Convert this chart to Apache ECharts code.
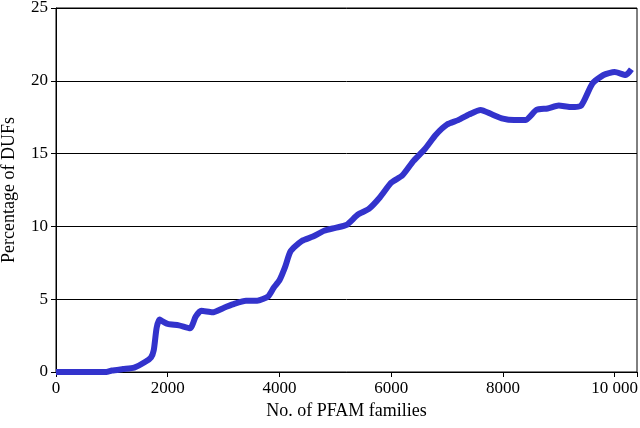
<!DOCTYPE html><html><head><meta charset="utf-8"><script src="https://cdn.jsdelivr.net/npm/echarts@6/dist/echarts.min.js"></script></head><body style="margin:0"><div id="c" style="width:640px;height:428px"></div><script>
const xs=[0,300,600,900,1000,1200,1400,1600,1700,1750,1800,1850,1900,2000,2200,2400,2500,2600,2800,3000,3200,3400,3600,3800,3900,4000,4100,4200,4400,4600,4800,5000,5200,5400,5600,5800,6000,6200,6400,6600,6800,7000,7200,7400,7600,7800,8000,8200,8400,8600,8800,9000,9200,9400,9600,9800,10000,10200,10300];
const ys=[0,0,0,0,0.1,0.2,0.3,0.7,1.0,1.5,3.0,3.6,3.5,3.3,3.2,3.0,3.8,4.2,4.1,4.4,4.7,4.9,4.9,5.2,5.8,6.3,7.2,8.3,9.0,9.3,9.7,9.9,10.1,10.8,11.2,12.0,13.0,13.5,14.5,15.3,16.3,17.0,17.3,17.7,18.0,17.7,17.4,17.3,17.3,18.0,18.1,18.3,18.2,18.3,19.8,20.4,20.6,20.4,20.8];
const xLabels={0:'0',2000:'2000',4000:'4000',6000:'6000',8000:'8000',10000:'10 000'};
const f='Liberation Serif';
echarts.init(document.getElementById('c')).setOption({animation:false,
grid:{left:56,right:3,top:8,bottom:56,outerBoundsMode:'none',show:true,borderColor:'#000',borderWidth:1},
xAxis:{type:'value',min:0,max:10400,interval:2000,name:'No. of PFAM families',nameLocation:'middle',nameGap:30,nameTextStyle:{fontFamily:f,fontSize:18,color:'#000'},
axisLine:{lineStyle:{color:'#000'}},axisTick:{show:true,lineStyle:{color:'#000'}},splitLine:{show:false},
axisLabel:{fontFamily:f,fontSize:17,color:'#000',formatter:v=>xLabels[v]??''}},
yAxis:{type:'value',min:0,max:25,interval:5,name:'Percentage of DUFs',nameLocation:'middle',nameGap:38,nameTextStyle:{fontFamily:f,fontSize:18,color:'#000'},
axisLine:{show:true,lineStyle:{color:'#000'}},axisTick:{show:true,lineStyle:{color:'#000'}},splitLine:{lineStyle:{color:'#000'}},
axisLabel:{fontFamily:f,fontSize:17,color:'#000'}},
series:[{type:'line',data:xs.map((x,i)=>[x,ys[i]]),showSymbol:false,smooth:0.2,lineStyle:{color:'#3333cc',width:6}}]});
</script></body></html>
